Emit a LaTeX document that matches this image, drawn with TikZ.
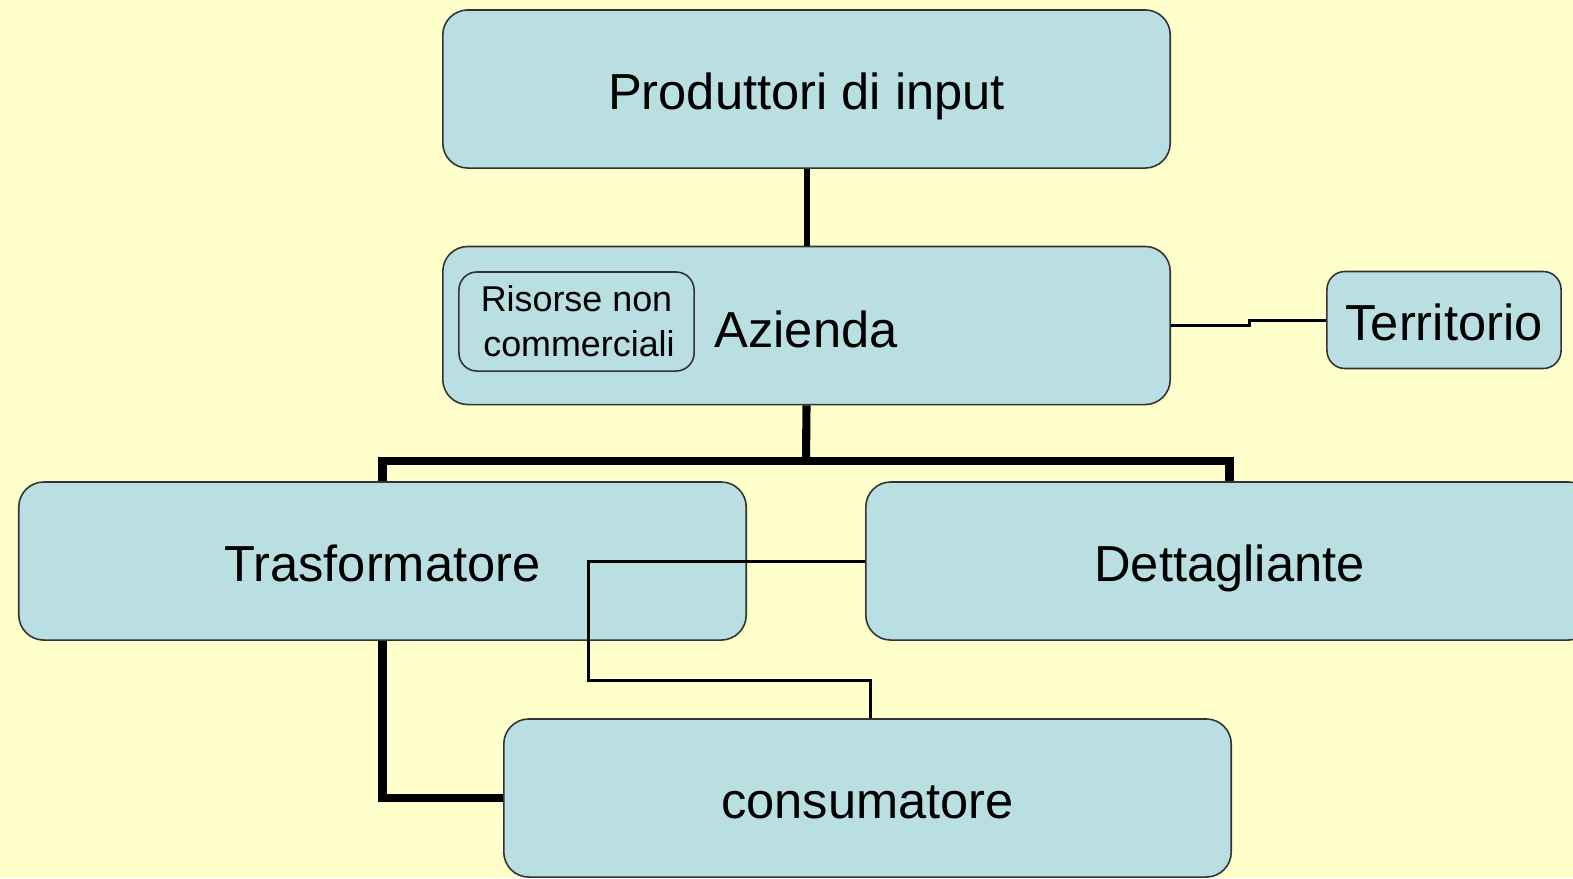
\documentclass[tikz,border=0pt]{standalone}
\usepackage{fontspec}
\setmainfont{Liberation Sans}
\usepackage{tikz}
\usetikzlibrary{positioning}
\definecolor{paper}{HTML}{FFFFCC}
\definecolor{boxblue}{HTML}{B9DFE2}
\definecolor{edge}{HTML}{333333}

\begin{document}
\begin{tikzpicture}[x=0.01cm, y=-0.01cm, text height=0.42cm, text depth=0.02cm, box/.style={rectangle, draw=edge, line width=0.45pt, fill=boxblue, rounded corners=0.25cm, inner sep=0pt, minimum width=7.27cm, minimum height=1.58cm, font=\fontsize{14.4}{17}\selectfont}, smallbox/.style={box, rounded corners=0.18cm, minimum width=2.34cm, minimum height=0.97cm}, heavy/.style={line width=2.3pt}, light/.style={line width=0.85pt}]
  \useasboundingbox (0,0) rectangle (1573,878);
  \clip (0,0) rectangle (1573,878);
  \fill[paper] (0,0) rectangle (1573,878);
  \node[box] (input) at (806.5,89) {Produttori di input};
  \node[box] (azienda) at (806.5,325.5) {};
  \node[font=\fontsize{14.4}{17}\selectfont, inner sep=0pt] (aztext) at (806,327) {Azienda};
  \node[smallbox, minimum width=2.35cm, minimum height=0.99cm, align=center, text height=, text depth=, font=\fontsize{10.2}{12.8}\selectfont] (risorse) at (576.5,321.5) {Risorse non\\ \hspace*{0.05cm}commerciali};
  \node[smallbox] (territorio) at (1444,320) {Territorio};
  \node[box] (trasf) at (382.5,561) {Trasformatore};
  \node[box] (dett) at (1229.5,561) {Dettagliante};
  \node[box] (cons) at (867.5,798) {consumatore};
  \coordinate (split) at (806,461);
  \coordinate (bend) at (588,680);
  \draw[line width=1.7pt] (input.south) -- (azienda.north);
  \draw[heavy] (azienda.south) -- (split);
  \draw[heavy] (split) -| (trasf.north);
  \draw[heavy] (split) -| (dett.north);
  \draw[heavy] (trasf.south) |- (cons.west);
  \draw[light] (azienda.east) -- ++(78,0) |- (territorio.west);
  \draw[light] (dett.west) -| (bend) -| ([xshift=0.025cm]cons.north);
\end{tikzpicture}
\end{document}
